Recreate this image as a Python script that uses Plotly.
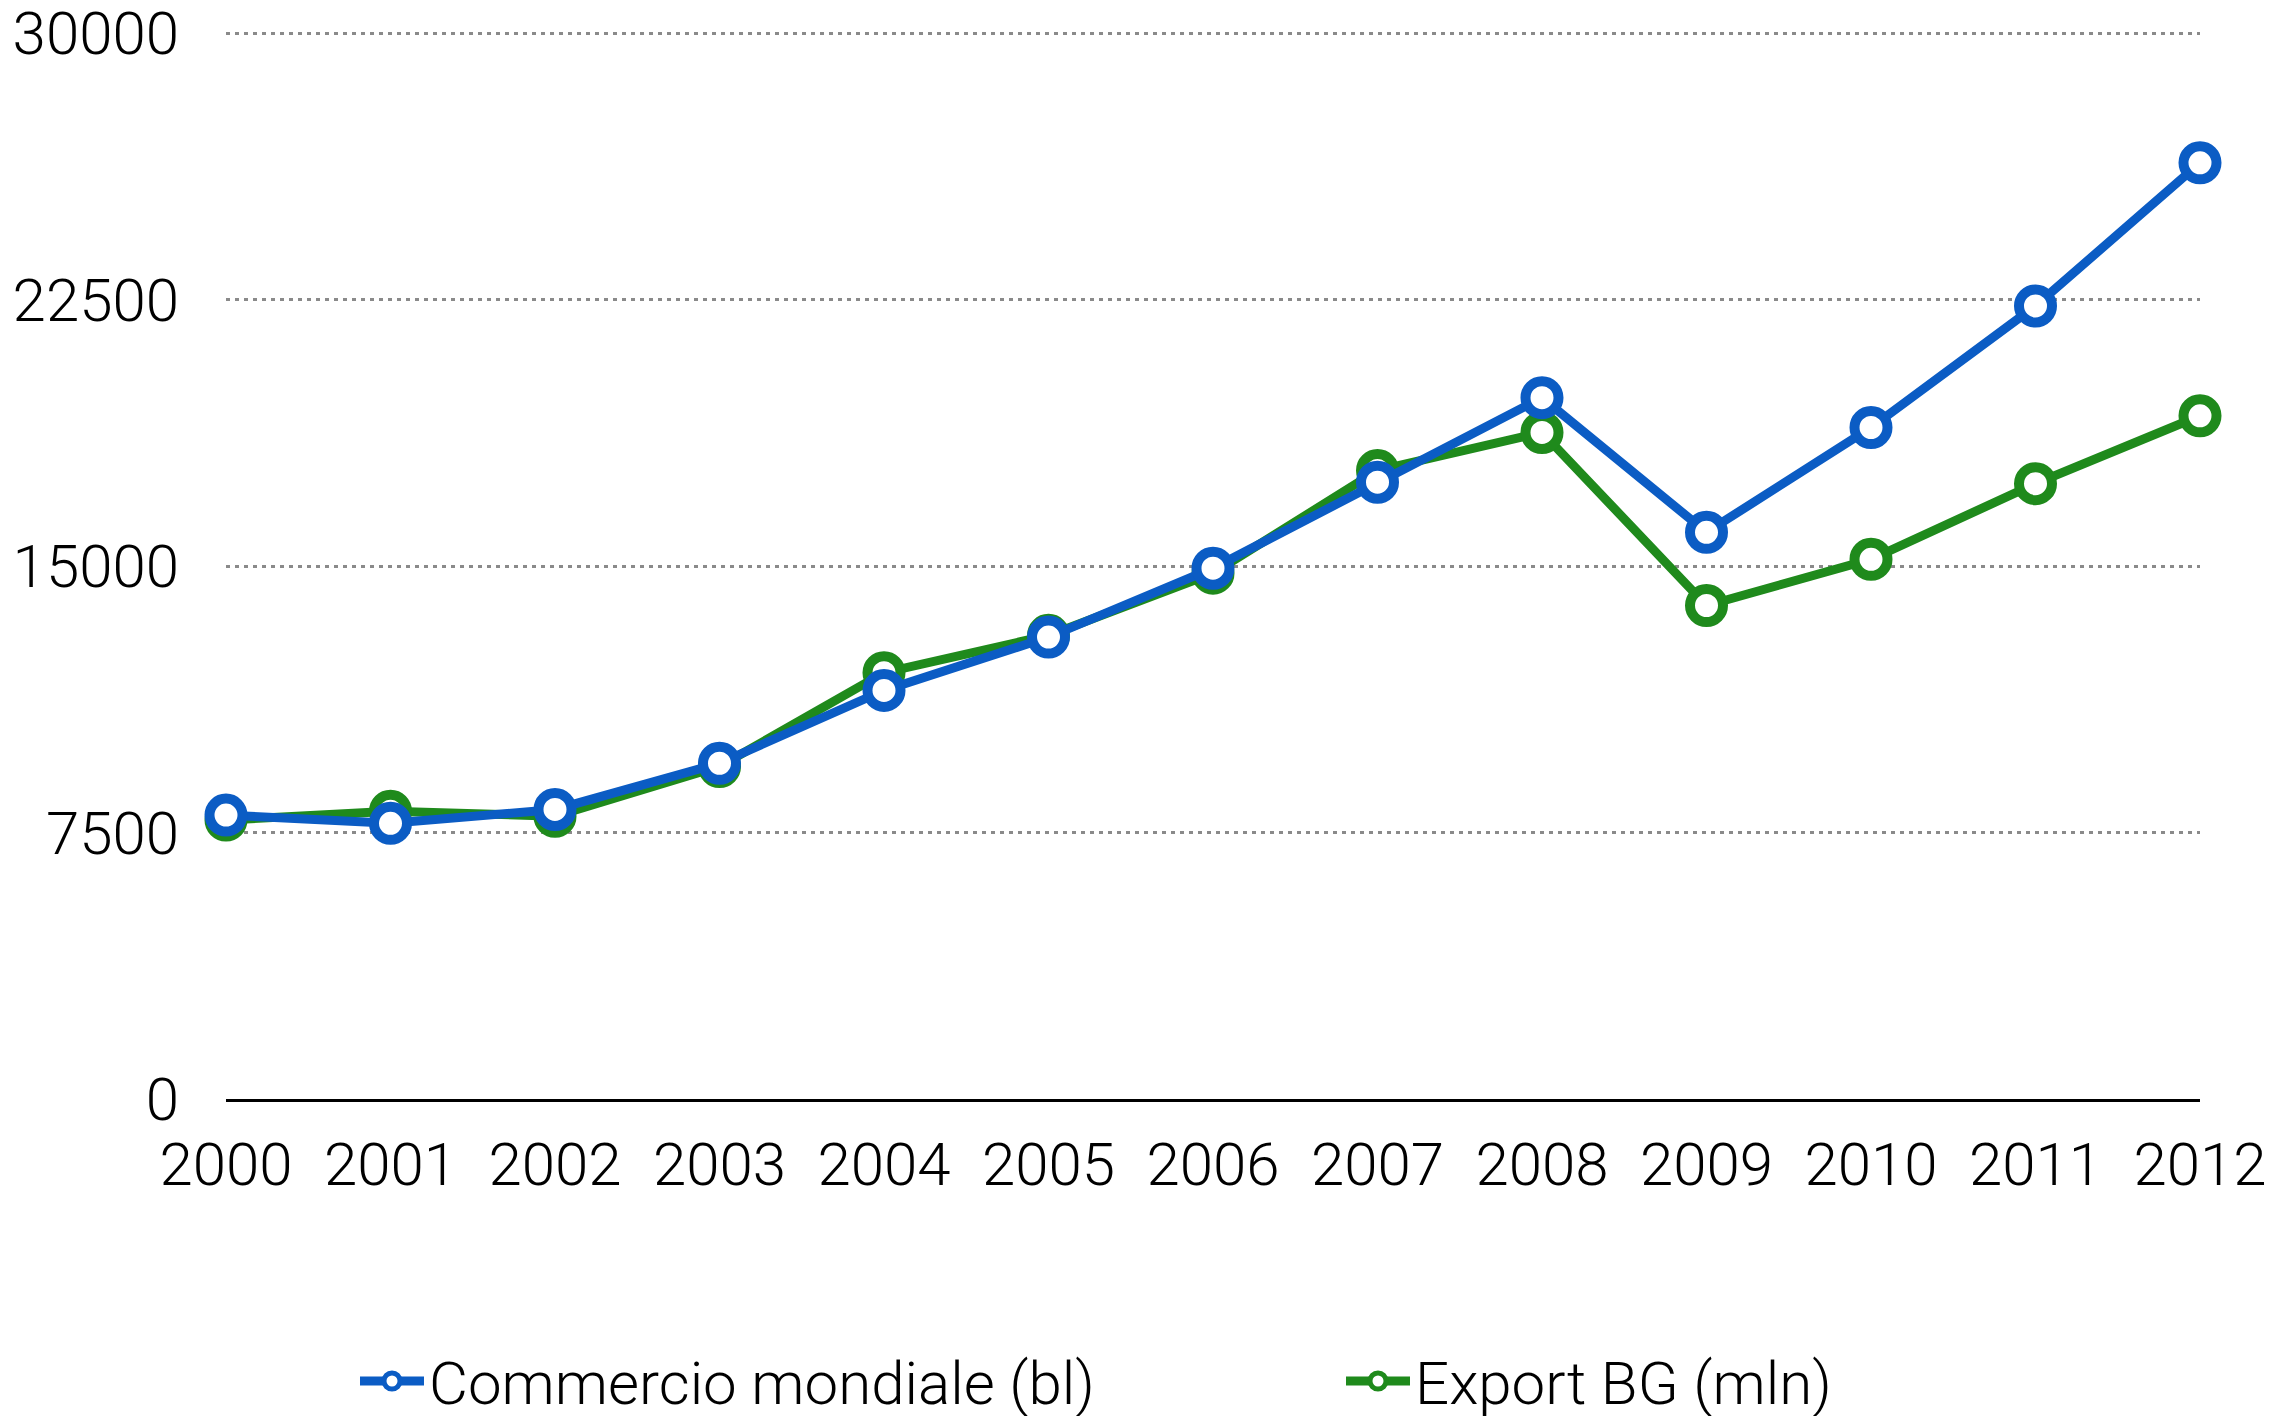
import plotly.graph_objects as go

years = [2000, 2001, 2002, 2003, 2004, 2005, 2006, 2007, 2008, 2009, 2010, 2011, 2012]
commercio = [7990, 7760, 8150, 9450, 11500, 13000, 14940, 17360, 19740, 15950, 18900, 22320, 26350]
export_bg = [7850, 8100, 7960, 9360, 12000, 13050, 14800, 17690, 18760, 13890, 15190, 17320, 19230]
y_ticks = [0, 7500, 15000, 22500, 30000]

BLUE = "#0B5CC4"
GREEN = "#1F8A1C"
FONT = dict(family="Roboto", size=60, color="#000000", weight=300)

# page body has an 8px margin, so the figure is sized to fit inside it
W, H = 2281, 1408

fig = go.Figure()

fig.add_trace(
    go.Scatter(
        name="Export BG (mln)",
        x=years,
        y=export_bg,
        mode="lines+markers",
        line=dict(color=GREEN, width=9),
        marker=dict(size=33, color="white", line=dict(color=GREEN, width=10)),
        cliponaxis=False,
        legend="legend2",
    )
)

fig.add_trace(
    go.Scatter(
        name="Commercio mondiale (bl)",
        x=years,
        y=commercio,
        mode="lines+markers",
        line=dict(color=BLUE, width=9),
        marker=dict(size=33, color="white", line=dict(color=BLUE, width=10)),
        cliponaxis=False,
        legend="legend",
    )
)

legend_style = dict(
    orientation="h",
    xref="container",
    yref="container",
    yanchor="middle",
    xanchor="left",
    font=FONT,
    itemwidth=64,
    bgcolor="rgba(0,0,0,0)",
)

fig.update_layout(
    width=W,
    height=H,
    margin=dict(l=218, r=89, t=23, b=317, autoexpand=False),
    paper_bgcolor="white",
    plot_bgcolor="white",
    font=FONT,
    showlegend=True,
    legend=dict(x=347 / W, y=1 - 1373 / H, **legend_style),
    legend2=dict(x=1333 / W, y=1 - 1373 / H, **legend_style),
    xaxis=dict(
        range=[2000, 2012],
        tickmode="array",
        tickvals=years,
        ticktext=[str(y) for y in years],
        showgrid=False,
        zeroline=False,
        showline=True,
        linecolor="#000000",
        linewidth=3,
        ticks="",
        ticklabelstandoff=11,
        ticklabeloverflow="allow",
        automargin=False,
        tickfont=FONT,
    ),
    yaxis=dict(
        range=[0, 30060],
        tickmode="array",
        tickvals=y_ticks,
        ticktext=[str(v) for v in y_ticks],
        showgrid=True,
        gridcolor="#8a8a8a",
        gridwidth=3,
        griddash="4px,5px",
        zeroline=False,
        showline=False,
        ticks="",
        ticklabelstandoff=46,
        ticklabeloverflow="allow",
        automargin=False,
        tickfont=FONT,
    ),
)

fig.write_html("out.html")
